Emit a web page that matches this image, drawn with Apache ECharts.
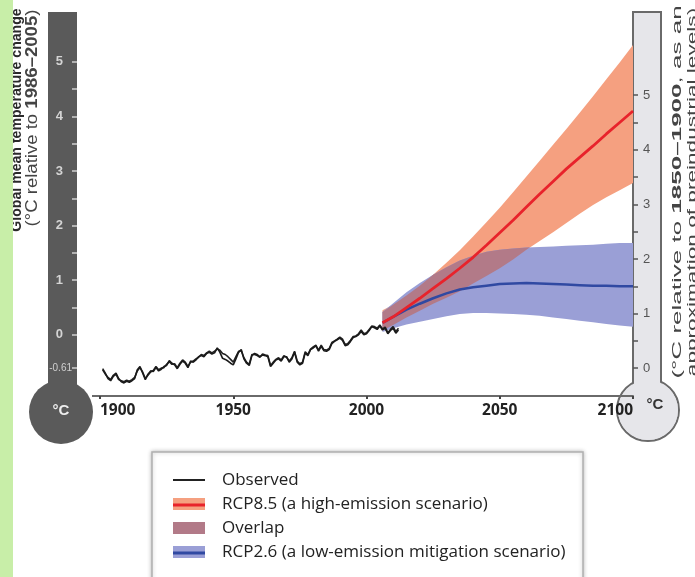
<!DOCTYPE html>
<html><head><meta charset="utf-8">
<script src="https://cdn.jsdelivr.net/npm/echarts@6/dist/echarts.min.js"></script>
<style>html,body{margin:0;padding:0;background:#fff}#c{width:695px;height:577px}</style>
</head><body><div id="c"></div>
<script>
// ---------- DATA ----------
const xTickLabels = [1900, 1950, 2000, 2050, 2100];
const leftLabelVals = [-0.61, 0, 1, 2, 3, 4, 5];
const leftTickVals = [-0.61, 0, 0.5, 1, 1.5, 2, 2.5, 3, 3.5, 4, 4.5, 5];
const rightLabelVals = [0, 1, 2, 3, 4, 5];
const rightTickVals = [0, 0.5, 1, 1.5, 2, 2.5, 3, 3.5, 4, 4.5, 5];

const obsStartYear = 1901;
const observedA = [
 -0.64,-0.72,-0.78,-0.82,-0.74,-0.70,-0.80,-0.86,-0.88,-0.85,
 -0.87,-0.84,-0.80,-0.64,-0.58,-0.70,-0.82,-0.72,-0.66,-0.67,
 -0.60,-0.66,-0.63,-0.58,-0.56,-0.47,-0.52,-0.55,-0.62,-0.54,
 -0.48,-0.52,-0.60,-0.48,-0.50,-0.46,-0.40,-0.38,-0.40,-0.34,
 -0.32,-0.35,-0.33,-0.24,-0.32,-0.43,-0.45,-0.48,-0.52,-0.55,
 -0.44,-0.32,-0.27,-0.44,-0.52,-0.56,-0.38,-0.34,-0.36,-0.40,
 -0.37,-0.38,-0.40,-0.58,-0.52,-0.46,-0.44,-0.48,-0.40,-0.40,
 -0.50,-0.44,-0.32,-0.50,-0.55,-0.52,-0.33,-0.38,-0.27,-0.24,
 -0.20,-0.30,-0.21,-0.29,-0.30,-0.27,-0.16,-0.12,-0.09,-0.06,
 -0.10,-0.20,-0.18,-0.12,-0.05,-0.03,0.00,0.06,0.00,0.02,
 0.08,0.15,0.13,0.10,0.16,0.09,0.12,0.02,0.08,0.12,
 0.03,0.09];
const observedB = [
 -0.62,-0.70,-0.80,-0.84,-0.76,-0.72,-0.82,-0.84,-0.86,-0.83,
 -0.85,-0.82,-0.78,-0.66,-0.60,-0.68,-0.80,-0.74,-0.68,-0.65,
 -0.58,-0.64,-0.61,-0.60,-0.54,-0.49,-0.54,-0.53,-0.60,-0.52,
 -0.46,-0.50,-0.58,-0.50,-0.48,-0.44,-0.41,-0.36,-0.38,-0.33,
 -0.30,-0.33,-0.30,-0.26,-0.28,-0.34,-0.36,-0.40,-0.45,-0.50,
 -0.40,-0.30,-0.29,-0.42,-0.50,-0.54,-0.36,-0.36,-0.38,-0.41,
 -0.35,-0.37,-0.38,-0.56,-0.50,-0.45,-0.42,-0.46,-0.38,-0.41,
 -0.48,-0.42,-0.30,-0.48,-0.53,-0.50,-0.31,-0.36,-0.26,-0.22,
 -0.19,-0.28,-0.19,-0.27,-0.28,-0.25,-0.14,-0.11,-0.08,-0.04,
 -0.08,-0.18,-0.16,-0.10,-0.03,-0.02,0.02,0.09,0.02,0.04,
 0.10,0.16,0.15,0.12,0.18,0.11,0.14,0.04,0.10,0.15,
 0.06,0.12];

const projYears = [2006,2010,2015,2020,2025,2030,2035,2040,2045,2050,2055,2060,2065,2070,2075,2080,2085,2090,2095,2100];
const rcp85Mean = [0.22,0.33,0.50,0.67,0.85,1.03,1.22,1.42,1.64,1.87,2.10,2.34,2.58,2.81,3.04,3.25,3.46,3.68,3.89,4.10];
const rcp85High = [0.45,0.55,0.72,0.90,1.10,1.32,1.55,1.80,2.06,2.33,2.61,2.90,3.19,3.48,3.77,4.07,4.37,4.68,4.99,5.31];
const rcp85Low  = [0.08,0.18,0.32,0.44,0.57,0.68,0.80,0.94,1.08,1.22,1.38,1.56,1.72,1.88,2.05,2.22,2.38,2.52,2.65,2.78];
const rcp26Mean = [0.22,0.33,0.46,0.57,0.67,0.76,0.83,0.87,0.90,0.93,0.94,0.95,0.94,0.93,0.92,0.91,0.90,0.90,0.89,0.89];
const rcp26High = [0.42,0.58,0.78,0.95,1.10,1.24,1.36,1.45,1.52,1.56,1.58,1.60,1.61,1.62,1.63,1.64,1.65,1.67,1.68,1.68];
const rcp26Low  = [0.05,0.12,0.19,0.24,0.29,0.34,0.38,0.40,0.40,0.39,0.38,0.37,0.35,0.32,0.29,0.26,0.23,0.20,0.17,0.15];

const NAME_OBS = 'Observed';
const NAME_85 = 'RCP8.5 (a high-emission scenario)';
const NAME_OV = 'Overlap';
const NAME_26 = 'RCP2.6 (a low-emission mitigation scenario)';

// ---------- STYLE ----------
const FONT = '"Liberation Sans", Arial, sans-serif';
const FONT_H = '"Open Sans", "Liberation Sans", Arial, sans-serif';
const C_RED_BAND = '#f5a080', C_RED = '#e8232b';
const C_BLUE_BAND = '#9a9fd6', C_BLUE = '#3049a2';
const C_OVER = '#b27a88';

function pairs(xs, ys) { return xs.map((x, i) => [x, ys[i]]); }
const obsYears = observedA.map((_, i) => obsStartYear + i);

function bandPolys(years, lo, hi) {
  return function (params, api) {
    const pts = [];
    for (let i = 0; i < years.length; i++) pts.push(api.coord([years[i], hi[i]]));
    for (let i = years.length - 1; i >= 0; i--) pts.push(api.coord([years[i], lo[i]]));
    return { type: 'polygon', shape: { points: pts }, style: api.style() };
  };
}
function overlapBand() {
  const ys = [], lo = [], hi = [];
  const n = projYears.length;
  const L = i => Math.max(rcp85Low[i], rcp26Low[i]);
  const H = i => Math.min(rcp85High[i], rcp26High[i]);
  for (let i = 0; i < n; i++) {
    const d = H(i) - L(i);
    if (d >= 0) { ys.push(projYears[i]); lo.push(L(i)); hi.push(H(i)); }
    if (i < n - 1) {
      const d2 = H(i + 1) - L(i + 1);
      if ((d >= 0) !== (d2 >= 0)) {
        const t = d / (d - d2);
        const yr = projYears[i] + t * (projYears[i + 1] - projYears[i]);
        const v = L(i) + t * (L(i + 1) - L(i));
        ys.push(yr); lo.push(v); hi.push(v);
      }
    }
  }
  return { ys, lo, hi };
}
const ov = overlapBand();

const chart = echarts.init(document.getElementById('c'), null, { renderer: 'canvas' });

function rotText(x, y, text, size, bold, scaleX, fill) {
  return {
    type: 'text', x: x, y: y, rotation: Math.PI / 2, scaleX: scaleX, scaleY: 1, z: 1,
    style: {
      text: text, fontFamily: FONT, fontSize: size, fontWeight: bold ? 'bold' : 'normal',
      fill: fill || '#333', align: 'center', verticalAlign: 'middle',
      rich: { b: { fontFamily: FONT, fontSize: size, fontWeight: 'bold', fill: fill || '#333' } }
    }
  };
}

const option = {
  animation: false,
  backgroundColor: '#ffffff',
  textStyle: { fontFamily: FONT },
  grid: { left: 100, right: 62, top: 12, bottom: 181 },
  xAxis: {
    type: 'value', min: 1900, max: 2100, interval: 50, z: 10,
    axisLine: { onZero: false, lineStyle: { color: '#6a6a6a', width: 2 } },
    axisTick: { length: 3, lineStyle: { color: '#444', width: 2 } },
    axisLabel: { color: '#222', fontSize: 15.5, fontWeight: 'bold', margin: 7, fontFamily: FONT_H,
      alignMinLabel: 'left', alignMaxLabel: 'right',
      formatter: v => xTickLabels.indexOf(v) >= 0 ? String(v) : '' },
    splitLine: { show: false }
  },
  yAxis: [
    { type: 'value', position: 'left', offset: 23, min: -1.12, max: 5.913, z: 10,
      axisLine: { show: false, onZero: false }, splitLine: { show: false },
      axisTick: { show: true, length: 5, lineStyle: { color: '#d0d0d0', width: 1.5 }, customValues: leftTickVals },
      axisLabel: { customValues: leftLabelVals, margin: 5,
        formatter: v => (Math.abs(v + 0.61) < 1e-6) ? '{s|-0.61}' : '{n|' + v + '}',
        rich: { s: { fontSize: 10, color: '#cfcfcf', fontFamily: FONT },
                n: { fontSize: 13, color: '#d4d4d4', fontWeight: 'bold', fontFamily: FONT, padding: [0, 9, 0, 0] } } } },
    { type: 'value', position: 'right', offset: 0, min: -0.51, max: 6.523, z: 10,
      axisLine: { show: false, onZero: false }, splitLine: { show: false },
      axisTick: { show: true, length: 5, lineStyle: { color: '#555', width: 1.5 }, customValues: rightTickVals },
      axisLabel: { customValues: rightLabelVals, margin: 10, color: '#555', fontSize: 13 } }
  ],
  legend: {
    orient: 'vertical', left: 173, top: 471, itemGap: 6, itemWidth: 32, itemHeight: 12,
    selectedMode: false, padding: 0, z: 20,
    textStyle: { fontSize: 17, color: '#222', lineHeight: 18, padding: [0, 0, 0, 12], fontFamily: FONT_H },
    data: [
      { name: NAME_OBS, icon: 'path://M0,0M0,5h32v2h-32zM32,12', itemStyle: { color: '#222' } },
      { name: NAME_85, icon: 'rect', itemStyle: { color: C_RED_BAND } },
      { name: NAME_OV, icon: 'rect', itemStyle: { color: C_OVER } },
      { name: NAME_26, icon: 'rect', itemStyle: { color: C_BLUE_BAND } }
    ]
  },
  graphic: [
    // left dark thermometer
    { type: 'circle', z: 0, shape: { cx: 61, cy: 412, r: 32 }, style: { fill: '#5a5a5a' } },
    { type: 'rect', z: 0, shape: { x: 48, y: 12, width: 29, height: 390 }, style: { fill: '#5a5a5a' } },
    { type: 'text', z: 1, x: 61, y: 411, style: { text: '°C', fontFamily: FONT, fontSize: 15, fontWeight: 'bold', fill: '#eeeeee', align: 'center', verticalAlign: 'middle' } },
    // right light thermometer
    { type: 'circle', z: 0, shape: { cx: 648, cy: 410, r: 31 }, style: { fill: '#e6e6ea', stroke: '#6a6a6a', lineWidth: 2 } },
    { type: 'rect', z: 0, shape: { x: 633, y: 12, width: 28, height: 380 }, style: { fill: '#e6e6ea', stroke: '#6a6a6a', lineWidth: 2 } },
    { type: 'circle', z: 0, shape: { cx: 648, cy: 410, r: 30 }, style: { fill: '#e6e6ea' } },
    { type: 'rect', z: 0, shape: { x: 634, y: 13, width: 26, height: 385 }, style: { fill: '#e6e6ea' } },
    { type: 'text', z: 1, x: 655, y: 405, style: { text: '°C', fontFamily: FONT, fontSize: 15, fontWeight: 'bold', fill: '#333', align: 'center', verticalAlign: 'middle' } },
    // x-axis line extension left of 1900
    { type: 'line', z: 1, shape: { x1: 92, y1: 396, x2: 100, y2: 396 }, style: { stroke: '#6a6a6a', lineWidth: 2 } },
    // axis titles
    rotText(16.5, 120, 'Global mean temperature change', 15, true, 0.94, '#2a2a2a'),
    rotText(33, 118, '(°C relative to {b|1986–2005})', 16, false, 1.16, '#444'),
    rotText(677, 192, '(°C relative to {b|1850–1900}, as an', 13, false, 2.0, '#444'),
    rotText(692, 192, 'approximation of preindustrial levels)', 13, false, 1.74, '#444'),
    // left green margin (on top of the cut-off title)
    { type: 'rect', z: 5, shape: { x: 0, y: 0, width: 13, height: 577 }, style: { fill: '#c8eea8' } },
    // legend box
    { type: 'rect', z: 0, shape: { x: 152, y: 452, width: 431, height: 160 },
      style: { fill: '#ffffff', stroke: '#b0b0b0', lineWidth: 1.5, shadowBlur: 4, shadowColor: 'rgba(0,0,0,0.25)' } },
    // central lines in legend swatches
    { type: 'line', z: 100, shape: { x1: 173, y1: 505, x2: 205, y2: 505 }, style: { stroke: C_RED, lineWidth: 3 } },
    { type: 'line', z: 100, shape: { x1: 173, y1: 553, x2: 205, y2: 553 }, style: { stroke: C_BLUE, lineWidth: 3 } }
  ],
  series: [
    { type: 'custom', name: NAME_85, z: 2, clip: true, silent: true,
      itemStyle: { color: C_RED_BAND }, data: [[projYears[0], rcp85Mean[0]]],
      renderItem: bandPolys(projYears, rcp85Low, rcp85High) },
    { type: 'custom', name: NAME_26, z: 3, clip: true, silent: true,
      itemStyle: { color: C_BLUE_BAND }, data: [[projYears[0], rcp26Mean[0]]],
      renderItem: bandPolys(projYears, rcp26Low, rcp26High) },
    { type: 'custom', name: NAME_OV, z: 4, clip: true, silent: true,
      itemStyle: { color: C_OVER }, data: [[ov.ys[0], ov.lo[0]]],
      renderItem: bandPolys(ov.ys, ov.lo, ov.hi) },
    { type: 'line', name: NAME_26, z: 5, showSymbol: false, silent: true,
      lineStyle: { color: C_BLUE, width: 2.5 }, itemStyle: { color: C_BLUE },
      data: pairs(projYears, rcp26Mean) },
    { type: 'line', name: NAME_85, z: 6, showSymbol: false, silent: true,
      lineStyle: { color: C_RED, width: 2.8 }, itemStyle: { color: C_RED },
      data: pairs(projYears, rcp85Mean) },
    { type: 'line', name: NAME_OBS, z: 7, showSymbol: false, silent: true,
      lineStyle: { color: '#222', width: 1.6 }, itemStyle: { color: '#222' },
      data: pairs(obsYears, observedB) },
    { type: 'line', name: NAME_OBS, z: 7, showSymbol: false, silent: true,
      lineStyle: { color: '#1a1a1a', width: 1.6 }, itemStyle: { color: '#222' },
      data: pairs(obsYears, observedA) }
  ]
};
chart.setOption(option);
</script></body></html>
